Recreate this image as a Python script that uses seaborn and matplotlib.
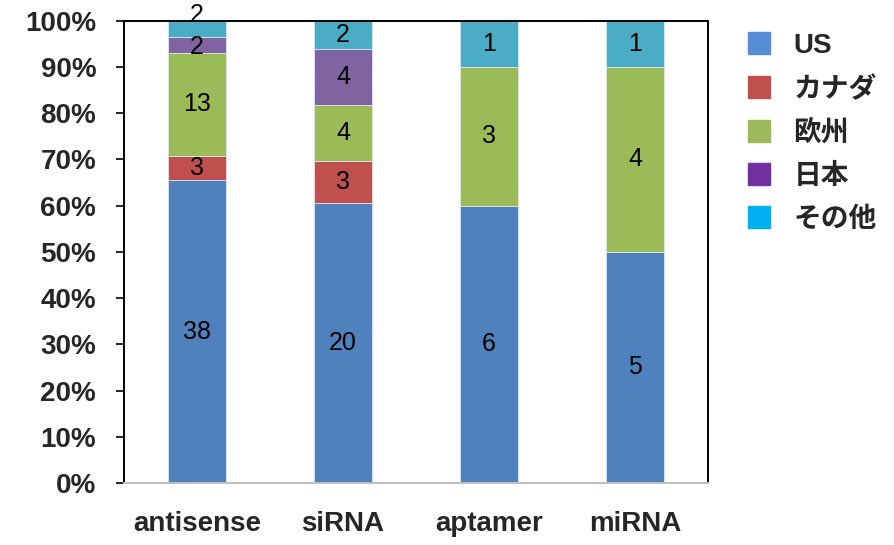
import matplotlib
matplotlib.use("Agg")
import matplotlib.pyplot as plt
from matplotlib.lines import Line2D
import numpy as np
import pandas as pd
import seaborn as sns

categories = ["antisense", "siRNA", "aptamer", "miRNA"]
regions = ["US", "カナダ", "欧州", "日本", "その他"]
us = [38, 20, 6, 5]
canada = [3, 3, 0, 0]
europe = [13, 4, 3, 4]
japan = [2, 4, 0, 0]
other = [2, 2, 1, 1]

bar_colors = ["#4F81BD", "#C0504D", "#9BBB59", "#8064A2", "#4BACC6"]
legend_colors = ["#558ED5", "#C0504D", "#9BBB59", "#7030A0", "#00B0F0"]

series = [us, canada, europe, japan, other]
rows = []
for reg, vals in zip(regions, series):
    for cat, v in zip(categories, vals):
        rows.append({"category": cat, "region": reg, "count": v})
df = pd.DataFrame(rows)

sns.set_style("white")
plt.rcParams["font.family"] = ["Liberation Sans", "Noto Sans CJK JP"]

fig = plt.figure(figsize=(8.94, 5.45), dpi=100)
ax = fig.add_axes([124 / 894, 1 - 483 / 545, (708 - 124) / 894, (483 - 20.7) / 545])

sns.histplot(
    data=df, x="category", hue="region", weights="count",
    hue_order=regions[::-1], palette=dict(zip(regions, bar_colors)),
    multiple="fill", discrete=True, shrink=0.4, alpha=1,
    edgecolor="#dce6f2", linewidth=0.6, legend=False, ax=ax,
)

# Count labels centred in each segment; thin segments at the top of a
# bar get nudged apart so their numbers stay readable
totals = np.sum(series, axis=0)
bottoms = np.zeros(len(categories))
for reg, vals in zip(regions, series):
    vals = np.array(vals)
    frac = vals / totals
    for i, (v, f) in enumerate(zip(vals, frac)):
        if v > 0:
            y = bottoms[i] + f / 2
            dy = 0
            if f < 0.05:
                dy = 10 if reg == "その他" else -1.5
            ax.annotate(str(v), (i, y), xytext=(0, dy), textcoords="offset points",
                        ha="center", va="center", fontsize=18, color="black")
    bottoms += frac

ax.set_xlim(-0.5, len(categories) - 0.5)
ax.set_ylim(0, 1)
ax.set_yticks(np.linspace(0, 1, 11))
ax.set_yticklabels([f"{int(round(t * 100))}%" for t in np.linspace(0, 1, 11)],
                   fontsize=20, fontweight="bold")
ax.set_xticks(range(len(categories)))
ax.set_xticklabels(categories, fontsize=20, fontweight="bold")
ax.set_xlabel("")
ax.set_ylabel("")
ax.tick_params(axis="y", left=True, length=6, width=1.2, color="black", pad=14)
ax.tick_params(axis="x", bottom=False, pad=17)

for side in ["left", "top", "right"]:
    ax.spines[side].set_visible(True)
    ax.spines[side].set_color("black")
    ax.spines[side].set_linewidth(1.4)
ax.spines["bottom"].set_color("#BFBFBF")
ax.spines["bottom"].set_linewidth(1.4)

handles = [Line2D([0], [0], marker="s", linestyle="none", markersize=16,
                  markerfacecolor=c, markeredgecolor=c) for c in legend_colors]
leg = fig.legend(handles, regions, loc="upper left", bbox_to_anchor=(720 / 894, 1 - 8 / 545),
                 frameon=False, handlelength=1.0, handletextpad=0.75, labelspacing=0.62,
                 prop={"size": 20, "weight": "bold"})

fig.savefig("out.png", dpi=100)
